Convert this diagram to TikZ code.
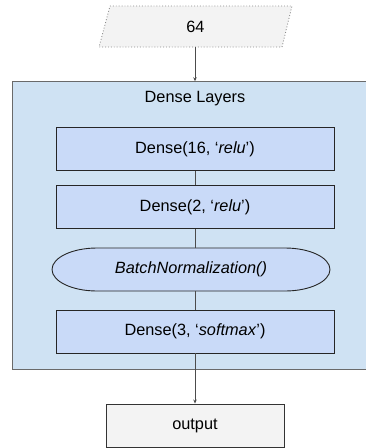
\documentclass[tikz,border=0pt]{standalone}
\usepackage{fontspec}
\setmainfont{Liberation Sans}
\usetikzlibrary{arrows.meta}
\definecolor{contfill}{HTML}{CFE2F3}
\definecolor{boxfill}{HTML}{C9DAF8}
\definecolor{grayfill}{HTML}{F3F3F3}
\definecolor{linegray}{HTML}{595959}
\begin{document}
\begin{tikzpicture}[x=1pt,y=-1pt,
  lbl/.style={font=\fontsize{16.3}{19}\selectfont, inner sep=0pt},
  layerbox/.style={draw=black!85, line width=0.9pt, fill=boxfill, minimum width=278pt, minimum height=43pt, lbl},
  link/.style={draw=black!70, line width=1pt},
  arr/.style={link, -{Stealth[length=4pt,width=3.5pt]}}]
\useasboundingbox (0,0) rectangle (366,448);
% container
\node[fill=contfill, minimum width=353pt, minimum height=287.5pt, inner sep=0pt] (dl) at (189.5,225.25) {};
\draw[draw=linegray!90, line width=1.1pt] (dl.north east) -- (dl.north west) -- (dl.south west) -- (dl.south east);
\node[lbl] (title) at (195,99) {Dense Layers};
% input parallelogram
\coordinate (inp) at (195.5,26.5);
\coordinate (p1) at (110,6);
\coordinate (p2) at (292,6);
\coordinate (p3) at (282,47);
\coordinate (p4) at (99,47);
\fill[grayfill] (p1) -- (p2) -- (p3) -- (p4) -- cycle;
\draw[draw=black!45, line width=0.9pt, dotted] (p1) -- (p2) -- (p3) -- (p4) -- cycle;
\node[lbl] (inlabel) at (inp) {64};
\coordinate (inb) at (195,47);
% layers
\node[layerbox] (d16) at (195,149) {Dense(16, ‘\textit{relu}’)};
\node[layerbox] (d2) at (195,207) {Dense(2, ‘\textit{relu}’)};
\coordinate (bn) at (191,269.5);
\coordinate (bnw) at (52,269.5);
\draw[draw=black!85, line width=0.9pt, fill=boxfill]
  (97,248) -- (285,248)
  arc[start angle=90, end angle=-90, x radius=45pt, y radius=21.5pt]
  -- (97,291)
  arc[start angle=270, end angle=90, x radius=45pt, y radius=21.5pt] -- cycle;
\node[lbl] (bnlabel) at (bn) {\textit{BatchNormalization()}};
\coordinate (bntop) at (195,248);
\coordinate (bnbot) at (195,291);
\node[layerbox] (d3) at (195,331.5) {Dense(3, ‘\textit{softmax}’)};
% output
\node[lbl, draw=black!80, line width=0.9pt, fill=grayfill, minimum width=178pt, minimum height=43pt] (out) at (195,425.5) {output};
% connectors
\draw[arr] (inb) -- (dl.north -| inb);
\draw[link] (d16.south) -- (d2.north);
\draw[link] (d2.south) -- (bntop);
\draw[link] (bnbot) -- (d3.north);
\draw[arr] (d3.south) -- (out.north);
\end{tikzpicture}
\end{document}
